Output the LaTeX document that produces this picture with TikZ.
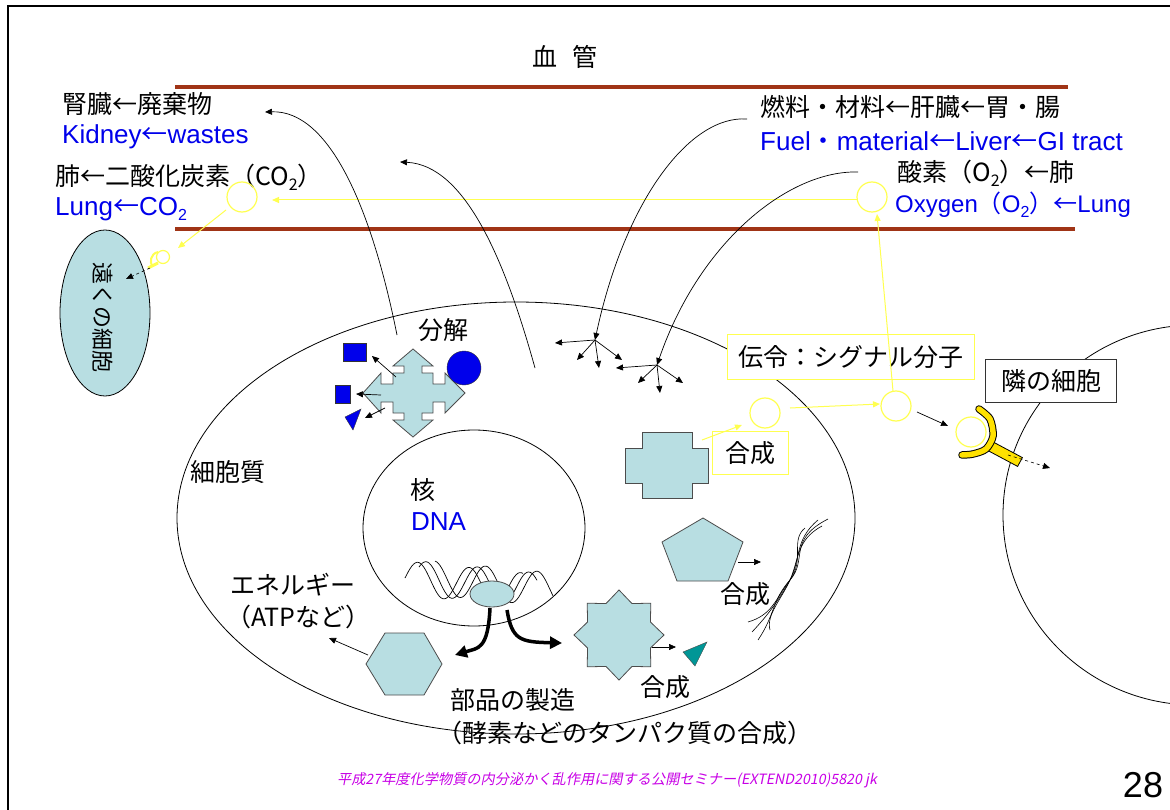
\documentclass[tikz,border=0pt]{standalone}
\usepackage{fontspec}
\setmainfont{Liberation Sans}
\newfontfamily\jp{Noto Sans CJK JP}
\newfontfamily\jpslant[FakeSlant=0.2]{Noto Sans CJK JP}
\usetikzlibrary{arrows.meta}

\definecolor{vessel}{RGB}{160,52,22}
\definecolor{cellfill}{RGB}{184,222,226}
\definecolor{sigyellow}{RGB}{255,255,80}
\definecolor{recyellow}{RGB}{255,225,0}
\definecolor{engblue}{RGB}{0,0,235}
\definecolor{molblue}{RGB}{0,0,235}
\definecolor{proteal}{RGB}{0,150,150}
\definecolor{footpink}{RGB}{200,0,230}

\newcommand\lowidx[1]{\raisebox{-0.35ex}{\fontsize{16}{16}\selectfont #1}}

\tikzset{
  jtext/.style={font=\jp\fontsize{25}{28}\selectfont, inner sep=0pt, anchor=west},
  etext/.style={font=\fontsize{26}{28}\selectfont, text=engblue, inner sep=0pt, anchor=west},
  organelle/.style={draw=black!70, fill=cellfill, line width=0.8pt},
  membrane/.style={draw=black, line width=0.8pt},
  sigline/.style={draw=sigyellow, line width=1pt},
  molecule/.style={draw=sigyellow, line width=1.2pt},
  path arrow/.style={->, line width=0.7pt},
  tagbox/.style={draw, fill=white, line width=1pt, inner sep=0pt, font=\jp\fontsize{25}{28}\selectfont}
}

\begin{document}
\begin{tikzpicture}[x=1pt,y=-1pt,>={Triangle[length=7pt,width=6pt]}]
\useasboundingbox (0,0) rectangle (1170,810);
\clip (0,0) rectangle (1170,810);
\fill[white] (0,0) rectangle (1170,810);
\draw[line width=2pt] (8,6) rectangle (1200,840);

% blood vessel
\node[jtext, anchor=center] (vesseltitle) at (565,57) {血\hspace{0.6em}管};
\draw[draw=vessel, line width=4pt] (175,87) -- (1068,87);
\draw[draw=vessel, line width=4pt] (175,229) -- (1075,229);

% what the blood carries
\node[jtext] (kidneyjp) at (62,104) {腎臓←廃棄物};
\node[etext] (kidneyen) at (62,137) {Kidney{\jp ←}wastes};
\node[jtext] (lungjp) at (55,177) {肺←二酸化炭素（CO\lowidx{2}）};
\node[etext] (lungen) at (55,209) {Lung{\jp ←}CO\lowidx{2}};
\node[jtext] (fueljp) at (760,107) {燃料・材料←肝臓←胃・腸};
\node[etext] (fuelen) at (760,141) {Fuel{\jp ・}material{\jp ←}Liver{\jp ←}GI tract};
\node[jtext] (oxyjp) at (897,173) {酸素（O\lowidx{2}）←肺};
\node[etext, font=\fontsize{24}{28}\selectfont] (oxyen) at (895,205) {Oxygen{\jp （}O\lowidx{2}{\jp ）←}Lung};

% gas molecules in the vessel
\coordinate (co2) at (242,197);
\coordinate (o2) at (872,197);
\draw[molecule] (co2) circle[radius=15pt];
\draw[molecule] (o2) circle[radius=15pt];
\draw[sigline, ->] (857,200) -- (272,200);
\draw[sigline, ->] (226,210) -- (178,248);

% distant cell
\coordinate (farcell) at (105,313);
\draw[membrane, fill=cellfill] (farcell) ellipse[x radius=45pt, y radius=83pt];
\node[font=\jp\fontsize{22}{24}\selectfont, rotate=-90] (farcelltext) at (103,318) {遠くの細胞};
\draw[molecule] (163,257) circle[radius=6.5pt];
\draw[draw=sigyellow, line width=3pt] (158,263) -- (148,268);
\draw[draw=sigyellow, line width=2pt] (158,252) .. controls (150,254) and (150,262) .. (152,266);
\draw[dashed, ->, line width=0.6pt] (150,268) -- (126,279);

% the cell and its nucleus
\coordinate (cell) at (516,518);
\coordinate (nucleus) at (474,528);
\draw[membrane] (cell) ellipse[x radius=339pt, y radius=216pt];
\draw[membrane] (nucleus) ellipse[x radius=111pt, y radius=98pt];
\node[jtext] (cytoplasm) at (190,472) {細胞質};
\node[jtext] (nucleustext) at (410,490) {核};
\node[etext] (dnatext) at (411,522) {DNA};

% neighbouring cell
\draw[membrane] (1195,515) ellipse[x radius=192pt, y radius=190pt];

% DNA strands
\foreach \sx/\ph in {0/0,14/40,30/95}
  \draw[line width=0.7pt] plot[domain=0:118, samples=70] ({405+\sx+\x}, {578-17*sin(7*\x+\ph)+0.1*\x});
\draw[organelle] (492,594) ellipse[x radius=22pt, y radius=13pt];

% products of the ribosome
\draw[line width=3.5pt, -{Triangle[length=12pt,width=12pt]}] (490,608) .. controls (488,650) and (478,648) .. (455,655);
\draw[line width=3.5pt, -{Triangle[length=12pt,width=12pt]}] (507,610) .. controls (512,640) and (520,642) .. (562,643);

% energy
\draw[organelle] (366,664) -- (385,633) -- (424,633) -- (442,664) -- (424,695) -- (385,695) -- cycle;
\draw[path arrow] (368,655) -- (329,638);
\node[jtext] (energy) at (230,585) {エネルギー};
\node[jtext] (atp) at (226,617) {（ATPなど）};

% parts made in the cell
\node[jtext] (parts) at (450,700) {部品の製造};
\node[jtext] (enzymes) at (437,733) {（酵素などのタンパク質の合成）};
\draw[organelle] (664,635) \foreach \k in {0,...,7} { -- ({619+45*cos(45*\k)},{635+45*sin(45*\k)}) -- ({619+34*cos(45*\k+22.5)},{635+34*sin(45*\k+22.5)}) } -- cycle;
\draw[path arrow] (652,647) -- (676,647);
\draw[draw=black!70, fill=proteal] (683,652) -- (707,642) -- (695,666) -- cycle;
\node[jtext] (synthC) at (640,687) {合成};

\draw[organelle] (703,518) -- (743,542) -- (728,581) -- (677,581) -- (662,542) -- cycle;
\draw[path arrow] (738,562) -- (761,562);
\node[jtext] (synthB) at (720,594) {合成};

% fibres
\foreach \ax/\ay/\bx/\by/\m in {805/528/748/622/0, 818/520/752/632/4, 828/519/758/640/-3, 822/526/770/630/6}
  \draw[line width=0.6pt] (\ax,\ay) .. controls (790+\m,540) and (805-\m,560) .. (790,580) .. controls (775+\m,600) and (772-\m,615) .. (\bx,\by);

% breakdown
\draw[organelle] (413,393) ++(0,-44) -- ++(20,17) -- ++(-11,0) -- ++(0,7) -- ++(11,0) -- ++(0,11) -- ++(12,0) -- ++(0,-11) -- ++(20,20) -- ++(-20,20) -- ++(0,-11) -- ++(-12,0) -- ++(0,11) -- ++(-11,0) -- ++(0,7) -- ++(11,0) -- ++(-20,17) -- ++(-20,-17) -- ++(11,0) -- ++(0,-7) -- ++(-11,0) -- ++(0,-11) -- ++(-12,0) -- ++(0,11) -- ++(-18,-20) -- ++(18,-20) -- ++(0,11) -- ++(12,0) -- ++(0,-11) -- ++(11,0) -- ++(0,-7) -- ++(-11,0) -- cycle;
\node[jtext] (breakdown) at (418,330) {分解};
\draw[draw=black!80, fill=molblue] (464,368) circle[radius=17pt];
\draw[draw=black!80, fill=molblue] (343,343) rectangle (366,361);
\draw[draw=black!80, fill=molblue] (335,385) rectangle (350,403);
\draw[draw=black!80, fill=molblue] (345,417) -- (361,409) -- (353,430) -- cycle;
\draw[path arrow] (396,377) -- (372,356);
\draw[path arrow] (381,395) -- (356,394);
\draw[path arrow] (385,408) -- (365,418);

% nutrients spreading in the cell
\coordinate (spreadA) at (595,340);
\coordinate (spreadB) at (657,365);
\foreach \tx/\ty in {555/343, 577/360, 599/368, 622/360}
  \draw[path arrow] (spreadA) -- (\tx,\ty);
\foreach \tx/\ty in {616/368, 638/383, 660/393, 683/383}
  \draw[path arrow] (spreadB) -- (\tx,\ty);
\draw[path arrow] (747,119) .. controls (690,115) and (625,200) .. (spreadA);
\draw[path arrow] (858,172) .. controls (790,170) and (700,240) .. (spreadB);
\draw[path arrow] (397,335) .. controls (372,210) and (330,110) .. (265,112);
\draw[path arrow] (535,368) .. controls (505,260) and (465,165) .. (400,162);

% signalling
\draw[organelle] (642,432) -- (692,432) -- (692,448) -- (708,448) -- (708,483) -- (692,483) -- (692,498) -- (642,498) -- (642,483) -- (625,483) -- (625,448) -- (642,448) -- cycle;
\node[tagbox, draw=sigyellow, minimum width=76pt, minimum height=43pt] (synthA) at (750,453) {合成};
\draw[sigline, ->] (702,440) -- (742,425);
\draw[molecule] (765,413) circle[radius=15pt];
\draw[sigline, ->] (790,408) -- (880,404);
\node[tagbox, draw=sigyellow, minimum width=247pt, minimum height=44pt] (messenger) at (851,357) {伝令：シグナル分子};
\draw[molecule] (896,406) circle[radius=15pt];
\draw[sigline, ->] (893,391) -- (877,214);
\draw[path arrow] (917,412) -- (948,426);

% receptor on the neighbouring cell
\node[tagbox, draw=black!80, minimum width=131pt, minimum height=43pt] (neighbour) at (1051,381) {隣の細胞};
\draw[draw=black, fill=recyellow, line width=0.8pt] (992.4,441.6) -- (1022.4,457.6) -- (1017.6,466.4) -- (987.6,450.4) -- cycle;
\draw[draw=black, line width=7.5pt, line cap=round] plot[smooth] coordinates {(979,409) (990,419) (993,436) (986,449) (973,454) (962,455)};
\draw[draw=recyellow, line width=5.5pt, line cap=round] plot[smooth] coordinates {(979,409) (990,419) (993,436) (986,449) (973,454) (962,455)};
\draw[molecule] (971,432) circle[radius=15pt];
\draw[dashed, ->, line width=0.6pt] (1008,455) -- (1050,468);

% footer
\node[font=\jpslant\fontsize{14.2}{15}\selectfont, text=footpink] (footer) at (607,780) {平成27年度化学物質の内分泌かく乱作用に関する公開セミナー(EXTEND2010)5820 jk};
\node[font=\fontsize{36}{38}\selectfont] (pagenum) at (1143,785) {28};
\end{tikzpicture}
\end{document}
